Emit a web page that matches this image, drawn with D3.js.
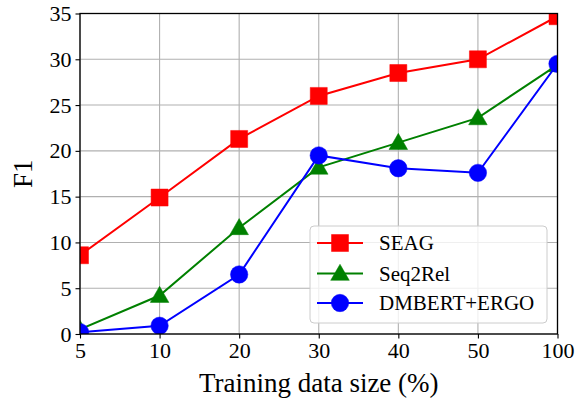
<!DOCTYPE html>
<html><head><meta charset="utf-8">
<script src="https://cdn.jsdelivr.net/npm/d3@7"></script>
<style>body{margin:0;background:#fff}svg{display:block}text{font-family:"Liberation Serif","Times New Roman",serif}</style>
</head><body>
<script>
const categories = ["5","10","20","30","40","50","100"];
const seag = [8.6, 14.9, 21.3, 26.0, 28.5, 30.0, 34.7];
const seq2rel = [0.5, 4.2, 11.6, 18.2, 20.9, 23.6, 29.4];
const dmbert = [0.2, 0.9, 6.5, 19.5, 18.1, 17.6, 29.5];
const yTicks = [0,5,10,15,20,25,30,35];
const seriesNames = ["SEAG","Seq2Rel","DMBERT+ERGO"];
const seriesColors = ["#ff0000","#008000","#0000ff"];
const seriesShapes = ["square","triangle","circle"];
const seriesData = [seag, seq2rel, dmbert];

const W=584,H=401, L=80, R=557.5, T=13.5, B=334;
const svg=d3.select("body").append("svg").attr("width",W).attr("height",H);
const x=d3.scalePoint().domain(categories).range([L,R]);
const y=d3.scaleLinear().domain([0,35]).range([B,T]);

svg.append("defs").append("clipPath").attr("id","clip").append("rect")
  .attr("x",L).attr("y",T).attr("width",R-L).attr("height",B-T);

// grid
const g=svg.append("g");
g.selectAll(".gx").data(categories).enter().append("line")
  .attr("x1",d=>x(d)).attr("x2",d=>x(d)).attr("y1",T).attr("y2",B)
  .attr("stroke","#b0b0b0").attr("stroke-width",1.1);
g.selectAll(".gy").data(yTicks).enter().append("line")
  .attr("x1",L).attr("x2",R).attr("y1",d=>y(d)).attr("y2",d=>y(d))
  .attr("stroke","#b0b0b0").attr("stroke-width",1.1);

const sym={square:d3.symbolSquare,triangle:d3.symbolTriangle,circle:d3.symbolCircle};
const size={square:17*17,triangle:150,circle:Math.PI*8.7*8.7};
function marker(sel,shape,color){
  sel.append("path").attr("d",d3.symbol().type(sym[shape]).size(size[shape])())
    .attr("fill",color).attr("stroke",color).attr("stroke-width",0.5);
}
const plot=svg.append("g").attr("clip-path","url(#clip)");
const line=d3.line().x((d,i)=>x(categories[i])).y(d=>y(d));
seriesData.forEach((data,k)=>{
  plot.append("path").datum(data).attr("d",line).attr("fill","none")
    .attr("stroke",seriesColors[k]).attr("stroke-width",2);
  data.forEach((v,i)=>{
    const m=plot.append("g").attr("transform",`translate(${x(categories[i])},${y(v)+(seriesShapes[k]==="triangle"?1.5:0)})`);
    marker(m,seriesShapes[k],seriesColors[k]);
  });
});

// axes
const xa=svg.append("g").attr("transform",`translate(0,${B})`)
  .call(d3.axisBottom(x).tickSize(4.5).tickPadding(4));
const ya=svg.append("g").attr("transform",`translate(${L},0)`)
  .call(d3.axisLeft(y).tickValues(yTicks).tickSize(4.5).tickPadding(4));
[xa,ya].forEach(a=>{a.select(".domain").remove();
  a.selectAll("text").attr("font-size",22).attr("fill","#000");
  a.selectAll("line").attr("stroke","#000").attr("stroke-width",1.1);});
svg.append("rect").attr("x",L).attr("y",T).attr("width",R-L).attr("height",B-T)
  .attr("fill","none").attr("stroke","#000").attr("stroke-width",1.3);

svg.append("text").attr("x",(L+R)/2).attr("y",392).attr("text-anchor","middle")
  .attr("font-size",27).text("Training data size (%)");
svg.append("text").attr("transform",`translate(32,${(T+B)/2}) rotate(-90)`).attr("text-anchor","middle")
  .attr("font-size",27).text("F1");

// legend
const lg=svg.append("g");
lg.append("rect").attr("x",310).attr("y",226).attr("width",237).attr("height",97).attr("rx",4)
  .attr("fill","#fff").attr("fill-opacity",0.8).attr("stroke","#cccccc").attr("stroke-width",1);
const ly=[243,273.5,303];
seriesNames.forEach((n,k)=>{
  const e=lg.append("g").attr("transform",`translate(0,${ly[k]})`);
  e.append("line").attr("x1",317).attr("x2",363).attr("stroke",seriesColors[k]).attr("stroke-width",2);
  const m=e.append("g").attr("transform",`translate(340,${seriesShapes[k]==="triangle"?1.5:0})`);
  marker(m,seriesShapes[k],seriesColors[k]);
  e.append("text").attr("x",379).attr("y",7).attr("font-size",21).text(n);
});
</script>
</body></html>
